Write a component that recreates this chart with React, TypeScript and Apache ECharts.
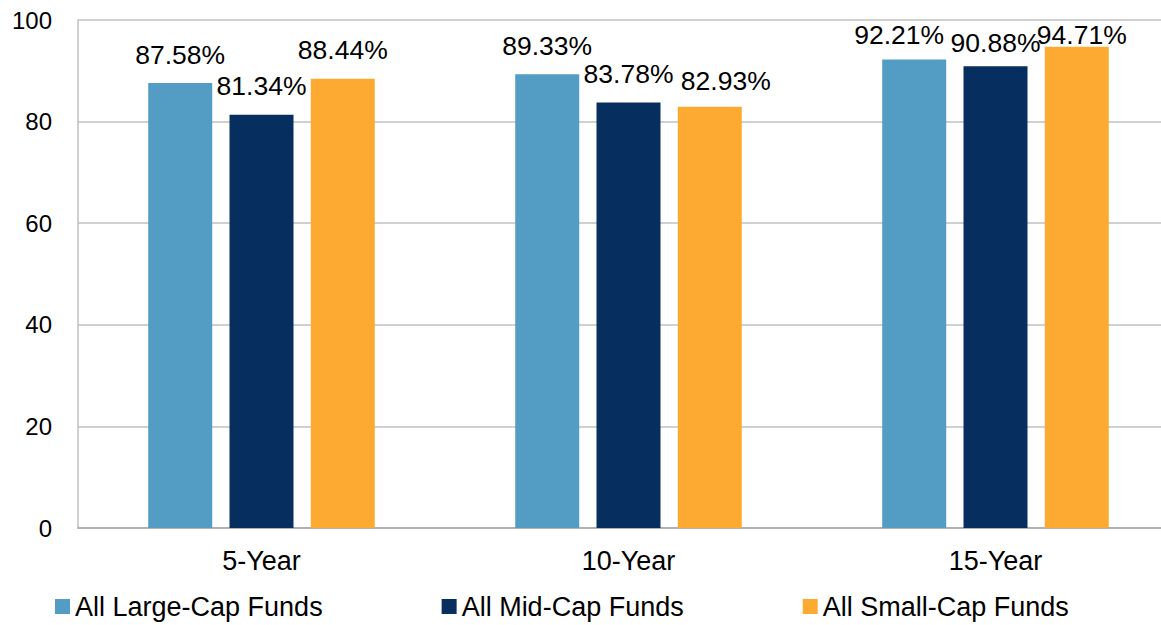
import React, { useEffect, useRef } from "react";
import * as echarts from "echarts";

const categories = ["5-Year", "10-Year", "15-Year"];
const seriesNames = ["All Large-Cap Funds", "All Mid-Cap Funds", "All Small-Cap Funds"];
const largeCap = [87.58, 89.33, 92.21];
const midCap = [81.34, 83.78, 90.88];
const smallCap = [88.44, 82.93, 94.71];
const colors = ["#539cc4", "#062e5f", "#fdaa33"];

// label nudges [dx, dy] per series per category (styling only)
const labelNudges: number[][][] = [
  [[0, 0], [0, 0], [-15, 4]],
  [[0, 0], [0, 0], [0, 5]],
  [[0, 0], [16, 3], [5, 17]],
];

const FONT = "'Liberation Sans', Arial, sans-serif";

export default function App() {
  const ref = useRef<HTMLDivElement>(null);
  useEffect(() => {
    if (!ref.current) return;
    const chart = echarts.init(ref.current, undefined, { renderer: "svg" });
    const values = [largeCap, midCap, smallCap];
    chart.setOption({
      animation: false,
      backgroundColor: "#ffffff",
      textStyle: { fontFamily: FONT },
      grid: {
        left: 78,
        top: 20,
        width: 1101,
        height: 508,
        containLabel: false,
        outerBoundsMode: "none",
      },
      legend: {
        data: seriesNames,
        left: 50,
        top: 588,
        icon: "rect",
        itemWidth: 15,
        itemHeight: 15,
        itemGap: 119,
        textStyle: { fontSize: 27, color: "#000", fontFamily: FONT },
      },
      xAxis: {
        type: "category",
        data: categories,
        axisTick: { show: false },
        axisLine: { show: true, lineStyle: { color: "#b0b0b0", width: 2 } },
        axisLabel: { fontSize: 27, color: "#000", margin: 19, fontFamily: FONT },
      },
      yAxis: {
        type: "value",
        min: 0,
        max: 100,
        interval: 20,
        axisLine: { show: true, lineStyle: { color: "#c0c0c0", width: 1.5 } },
        axisTick: { show: false },
        axisLabel: { fontSize: 24, color: "#000", margin: 26, fontFamily: FONT },
        splitLine: { show: true, lineStyle: { color: "#c0c0c0", width: 1.5 } },
      },
      series: seriesNames.map((name, i) => ({
        name,
        type: "bar",
        data: values[i].map((v, j) => ({
          value: v,
          label: { offset: labelNudges[i][j] },
        })),
        barWidth: 64,
        barGap: "27%",
        itemStyle: { color: colors[i] },
        label: {
          show: true,
          position: "top",
          distance: 15,
          fontSize: 26.5,
          color: "#000",
          fontFamily: FONT,
          formatter: (p: any) => Number(p.value).toFixed(2) + "%",
        },
      })),
    });
    return () => chart.dispose();
  }, []);
  return (
    <div
      ref={ref}
      style={{ position: "fixed", left: 0, top: 0, width: 1161, height: 625, background: "#fff" }}
    />
  );
}
